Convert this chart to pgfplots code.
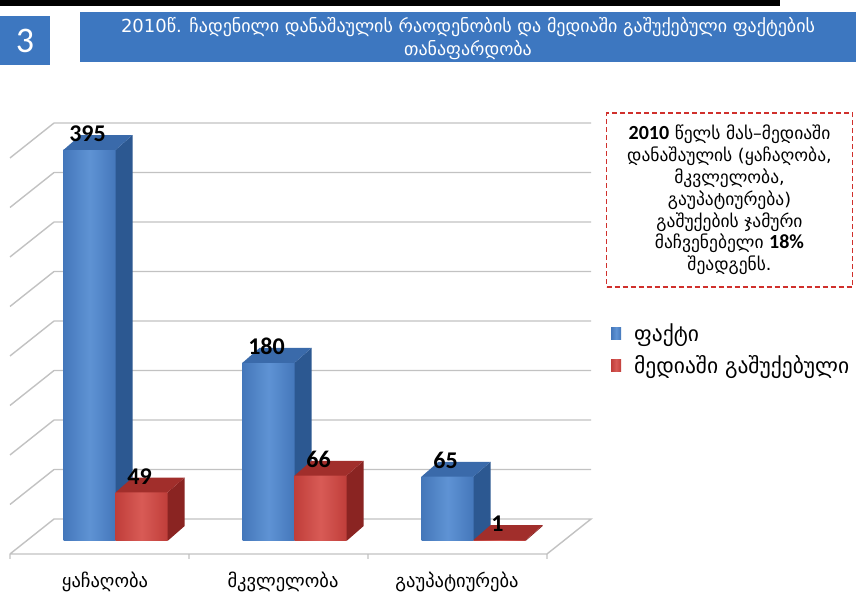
\documentclass[border=0pt]{standalone}
\usepackage{pgfplots}
\pgfplotsset{compat=1.18}
\usepackage{fontspec}
\setmainfont{DejaVu Sans}
\newfontfamily\numfont{Carlito}
\definecolor{barblue}{HTML}{4477BA}
\definecolor{barbluel}{HTML}{5F93D4}
\definecolor{barblueside}{HTML}{2C5891}
\definecolor{barbluetop}{HTML}{3A6AAA}
\definecolor{barred}{HTML}{C03E3A}
\definecolor{barredl}{HTML}{D85B56}
\definecolor{barredside}{HTML}{8A2422}
\definecolor{barredtop}{HTML}{A12E2B}
\definecolor{banner}{HTML}{3D77C0}
\definecolor{gridgrey}{HTML}{C2C2C2}
\definecolor{boxred}{HTML}{D0302C}
\begin{document}
\begin{tikzpicture}
\begin{axis}[
  width=860pt, height=616pt, scale only axis,
  xmin=0, xmax=860, ymin=-75.76, ymax=546.46,
  axis lines=none, clip=false,
  /pgf/number format/assume math mode=true,
  legend style={at={(axis cs:611,222)}, anchor=north west, draw=none, fill=none,
    font=\fontsize{21.5}{21.5}\selectfont, row sep=9pt, inner sep=0pt,
    /tikz/every odd column/.append style={column sep=11pt}},
  legend cell align=left,
  nodes near coords style={font=\numfont\bfseries\fontsize{24}{24}\selectfont, text=black,
    anchor=south, inner sep=0pt, yshift=8pt, xshift=-2pt},
  bluebar/.style={ybar, bar width=52, bar shift=0, draw=none, left color=barblue,
    right color=barblue, middle color=barbluel, nodes near coords},
  redbar/.style={ybar, bar width=52, bar shift=0, draw=none, left color=barred,
    right color=barred, middle color=barredl, nodes near coords},
]
% background
\fill[white] (rel axis cs:0,0) rectangle (rel axis cs:1,1);
\fill[black] (axis cs:0,546.46) rectangle (axis cs:780,540.4);
% banner and number box
\fill[banner] (axis cs:0,530.3) rectangle (axis cs:50,480.8);
\node[text=white, font=\numfont\fontsize{36}{36}\selectfont] at (axis cs:25,505.5) {3};
\fill[banner] (axis cs:80,534.3) rectangle (axis cs:856,483.8);
\node[text=white, align=center, font=\fontsize{18}{22.5}\selectfont] at (axis cs:468,507.6)
  {2010წ. ჩადენილი დანაშაულის რაოდენობის და მედიაში გაშუქებული ფაქტების\\თანაფარდობა};
% floor and walls
\addplot[gridgrey, line width=1.4pt, forget plot, unbounded coords=jump] coordinates {
 (10,-13.1) (547,-13.1) (591,22.2) (54,22.2) (10,-13.1) (nan,nan)
 (54,72.2) (591,72.2) (nan,nan) (54,122.2) (591,122.2) (nan,nan)
 (54,172.2) (591,172.2) (nan,nan) (54,222.2) (591,222.2) (nan,nan)
 (54,272.2) (591,272.2) (nan,nan) (54,322.2) (591,322.2) (nan,nan)
 (54,372.2) (591,372.2) (nan,nan) (54,422.2) (591,422.2) (nan,nan)
 (10,36.9) (54,72.2) (nan,nan) (10,86.9) (54,122.2) (nan,nan)
 (10,136.9) (54,172.2) (nan,nan) (10,186.9) (54,222.2) (nan,nan)
 (10,236.9) (54,272.2) (nan,nan) (10,286.9) (54,322.2) (nan,nan)
 (10,336.9) (54,372.2) (nan,nan) (10,386.9) (54,422.2) (nan,nan)
 (189,-13.1) (189,-18.1) (nan,nan) (368,-13.1) (368,-18.1) (nan,nan)
 (547,-13.1) (547,-18.1) (nan,nan) (10,-13.1) (10,-18.1)
};
% blue bars (front faces, then sides and tops)
\addplot[bluebar, legend image code/.code={\fill[barblue] (0pt,-6pt) rectangle (10pt,6pt);}]
  coordinates {(89.5,395)};
\addlegendentry{ფაქტი}
\addplot[bluebar, forget plot] coordinates {(268.5,180)};
\addplot[bluebar, forget plot] coordinates {(447.5,65)};
\addplot[fill=barblueside, draw=none, forget plot] coordinates {(115.5,0) (132.5,15) (132.5,410) (115.5,395)} -- cycle;
\addplot[fill=barbluetop, draw=none, forget plot] coordinates {(63.5,395) (80.5,410) (132.5,410) (115.5,395)} -- cycle;
\addplot[fill=barblueside, draw=none, forget plot] coordinates {(294.5,0) (311.5,15) (311.5,195) (294.5,180)} -- cycle;
\addplot[fill=barbluetop, draw=none, forget plot] coordinates {(242.5,180) (259.5,195) (311.5,195) (294.5,180)} -- cycle;
\addplot[fill=barblueside, draw=none, forget plot] coordinates {(473.5,0) (490.5,15) (490.5,80) (473.5,65)} -- cycle;
\addplot[fill=barbluetop, draw=none, forget plot] coordinates {(421.5,65) (438.5,80) (490.5,80) (473.5,65)} -- cycle;
% red bars
\addplot[redbar, legend image code/.code={\fill[barred] (0pt,-6pt) rectangle (10pt,6pt);}]
  coordinates {(141.5,49)};
\addlegendentry{მედიაში გაშუქებული}
\addplot[redbar, forget plot] coordinates {(320.5,66)};
\addplot[redbar, forget plot] coordinates {(499.5,1)};
\addplot[fill=barredside, draw=none, forget plot] coordinates {(167.5,0) (184.5,15) (184.5,64) (167.5,49)} -- cycle;
\addplot[fill=barredtop, draw=none, forget plot] coordinates {(115.5,49) (132.5,64) (184.5,64) (167.5,49)} -- cycle;
\addplot[fill=barredside, draw=none, forget plot] coordinates {(346.5,0) (363.5,15) (363.5,81) (346.5,66)} -- cycle;
\addplot[fill=barredtop, draw=none, forget plot] coordinates {(294.5,66) (311.5,81) (363.5,81) (346.5,66)} -- cycle;
\addplot[fill=barredside, draw=none, forget plot] coordinates {(525.5,0) (542.5,15) (542.5,16) (525.5,1)} -- cycle;
\addplot[fill=barredtop, draw=none, forget plot] coordinates {(473.5,1) (490.5,16) (542.5,16) (525.5,1)} -- cycle;
% category labels
\node[font=\fontsize{18.5}{18.5}\selectfont] at (axis cs:105,-41.4) {ყაჩაღობა};
\node[font=\fontsize{18.5}{18.5}\selectfont] at (axis cs:283,-41.4) {მკვლელობა};
\node[font=\fontsize{18.5}{18.5}\selectfont] at (axis cs:457,-41.4) {გაუპატიურება};
% text box
\node[draw=boxred, line width=1.6pt, dash pattern=on 5pt off 3pt, minimum width=246pt,
  minimum height=174pt, align=center, inner sep=0pt,
  font=\fontsize{17.5}{21.8}\selectfont] at (axis cs:729.5,344.4)
  {{\numfont\bfseries\fontsize{20}{20}\selectfont 2010} წელს მას–მედიაში\\
   დანაშაულის (ყაჩაღობა,\\ მკვლელობა,\\ გაუპატიურება)\\ გაშუქების ჯამური\\
   მაჩვენებელი {\numfont\bfseries\fontsize{20}{20}\selectfont 18\%}\\ შეადგენს.};
\end{axis}
\end{tikzpicture}
\end{document}
